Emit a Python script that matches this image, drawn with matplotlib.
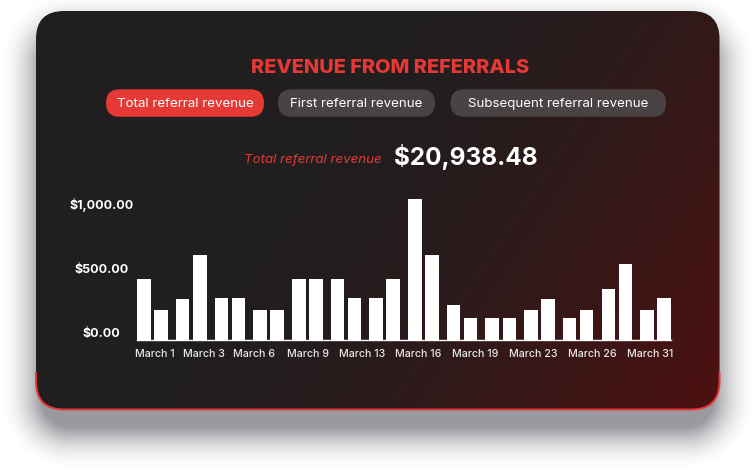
import numpy as np
import matplotlib.pyplot as plt
import matplotlib.transforms as mtransforms
from matplotlib.patches import FancyBboxPatch, Rectangle
from matplotlib.colors import to_rgb

plt.rcParams['font.family'] = ['Inter', 'DejaVu Sans']

# Chart data
revenue = [469, 232, 317, 655, 325, 325, 232, 232, 469, 469, 469, 325, 325, 469,
           1087, 655, 270, 170, 170, 170, 232, 317, 170, 232, 394, 587, 232, 325]
day_labels = ['March 1', 'March 3', 'March 6', 'March 9', 'March 13',
              'March 16', 'March 19', 'March 23', 'March 26', 'March 31']
day_label_pos = [0.46, 1.71, 3.01, 4.40, 5.80, 7.27, 8.73, 10.23, 11.76, 13.25]
y_ticks = [0, 500, 1000]
y_tick_labels = ['$0.00', '$500.00', '$1,000.00']
tabs = ['Total referral revenue', 'First referral revenue', 'Subsequent referral revenue']
title = 'REVENUE FROM REFERRALS'
total_label = 'Total referral revenue'
total_value = '$20,938.48'

RED = '#e53935'
W, H = 756, 471

fig = plt.figure(figsize=(W / 100, H / 100), dpi=100)
fig.patch.set_facecolor('white')

# background layer in pixel units (y down)
bg = fig.add_axes([0, 0, 1, 1])
bg.set_xlim(0, W)
bg.set_ylim(H, 0)
bg.axis('off')

yy, xx = np.mgrid[0:H, 0:W] + 0.5


def rrect_dist(x0, y0, x1, y1, r):
    cx = np.clip(xx, x0 + r, x1 - r)
    cy = np.clip(yy, y0 + r, y1 - r)
    return np.hypot(xx - cx, yy - cy) - r


# soft drop shadow
cx0, cy0, cx1, cy1, rad = 36, 11, 719.5, 409.5, 28
d = rrect_dist(cx0 + 6, cy0 + 24, cx1 - 6, cy1 + 18, rad)
alpha = 0.55 * np.clip(1 - d / 44, 0, 1) ** 2
shadow = np.zeros((H, W, 4))
shadow[..., :3] = np.array([70, 70, 80]) / 255
shadow[..., 3] = alpha
bg.imshow(shadow, extent=(0, W, H, 0), zorder=0, interpolation='bilinear')

# card with dark -> red gradient
card = FancyBboxPatch((cx0, cy0), cx1 - cx0, cy1 - cy0,
                      boxstyle=f'round,pad=0,rounding_size={rad}',
                      facecolor='none', edgecolor='none', zorder=1)
bg.add_patch(card)
xn = (xx - cx0) / (cx1 - cx0)
yn = (yy - cy0) / (cy1 - cy0)
u = 0.72 * xn + 0.28 * yn
t = np.clip((u - 0.42) / 0.58, 0, 1) ** 1.4
c_dark = np.array(to_rgb('#211e1f'))
c_red = np.array(to_rgb('#4e1010'))
grad = c_dark[None, None, :] * (1 - t[..., None]) + c_red[None, None, :] * t[..., None]
im = bg.imshow(grad, extent=(0, W, H, 0), zorder=1, interpolation='bilinear')
im.set_clip_path(card)

# red border on the lower part of the card
border = FancyBboxPatch((cx0, cy0), cx1 - cx0, cy1 - cy0,
                        boxstyle=f'round,pad=0,rounding_size={rad}',
                        facecolor='none', edgecolor=RED, lw=1.4, zorder=2)
bg.add_patch(border)
clip = Rectangle((0, 372), W, H - 372, transform=bg.transData)
border.set_clip_path(clip)

# title
bg.text(390.5, 73.3, title, color=RED, fontsize=14.4, fontweight='heavy',
        ha='center', va='baseline', zorder=3)

# tab pills
pill_x = [(106, 264), (278, 435), (450.5, 666)]
pill_colors = [RED, '#4a4343', '#4a4343']
for (x0, x1), label, col in zip(pill_x, tabs, pill_colors):
    bg.add_patch(FancyBboxPatch((x0, 89.3), x1 - x0, 27.5,
                                boxstyle='round,pad=0,rounding_size=13.7',
                                facecolor=col, edgecolor='none', zorder=3))
    bg.text((x0 + x1) / 2, 107, label, color='white', fontsize=9.6,
            ha='center', va='baseline', zorder=4)

# total line
bg.text(381.5, 162.7, total_label, color=RED, fontsize=9.6, style='italic',
        ha='right', va='baseline', zorder=3)
bg.text(394, 165.5, total_value, color='white', fontsize=17.5, fontweight='bold',
        ha='left', va='baseline', zorder=3)

# bar chart
ax = fig.add_axes([137.3 / W, (H - 340) / H, (670.8 - 137.3) / W, 145 / H])
ax.patch.set_alpha(0)
idx = np.arange(len(revenue))
xpos = idx // 2 + (idx % 2) * 0.44
ax.bar(xpos, revenue, width=0.349, align='edge', color='white', zorder=3)
ax.set_xlim(0, 13.79)
ax.set_ylim(0, 1120)
for side in ['top', 'right', 'left']:
    ax.spines[side].set_visible(False)
ax.spines['bottom'].set_color('white')
ax.spines['bottom'].set_linewidth(1.0)

ax.set_xticks(day_label_pos, day_labels)
ax.tick_params(axis='x', length=0, pad=6.8, labelsize=7.7, labelcolor='#e8e8e8')
for lab in ax.get_xticklabels():
    lab.set_fontweight('medium')
ax.set_yticks(y_ticks, y_tick_labels)
ax.tick_params(axis='y', length=0, pad=25.8, labelsize=9, labelcolor='white')
offset = mtransforms.ScaledTranslation(0, 7 / 100, fig.dpi_scale_trans)
for lab in ax.get_yticklabels():
    lab.set_fontweight('bold')
    lab.set_horizontalalignment('center')
    lab.set_transform(lab.get_transform() + offset)

fig.savefig('out.png', dpi=100, facecolor='white')
